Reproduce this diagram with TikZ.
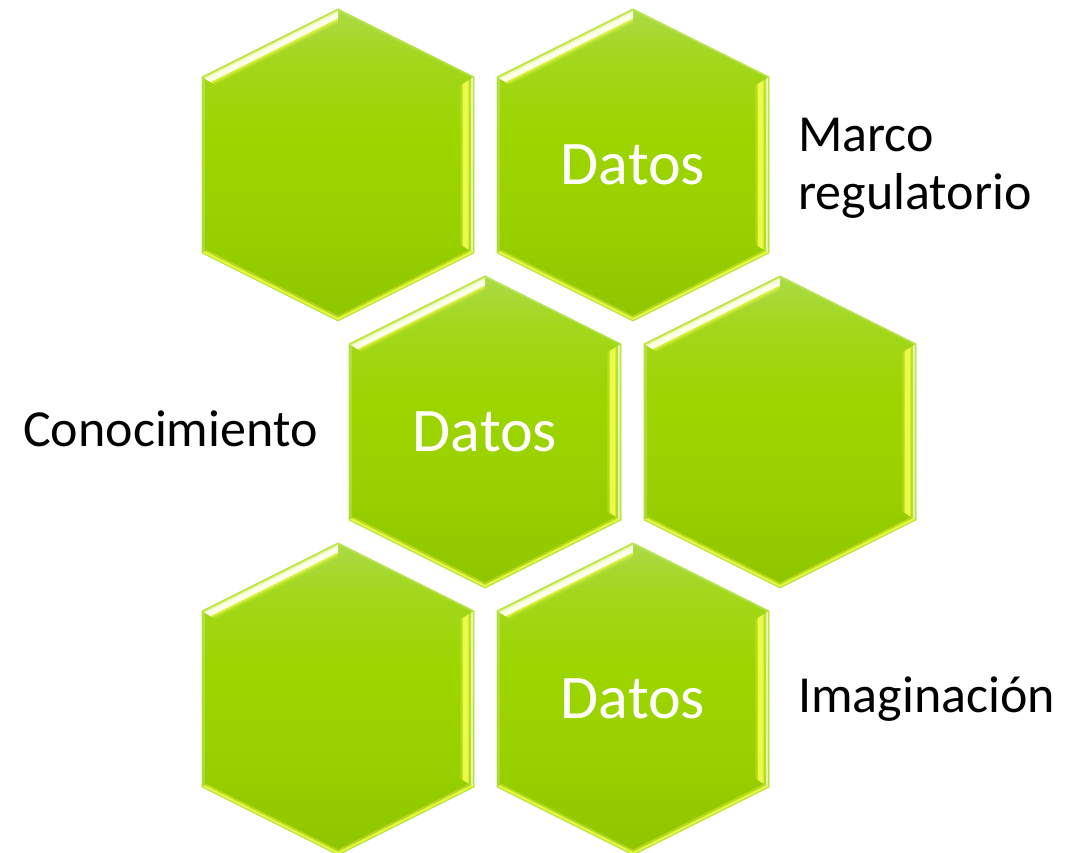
\documentclass[tikz,border=0pt]{standalone}
\usepackage{fontspec}
\setmainfont{Carlito}
\usetikzlibrary{calc}
\definecolor{hexTop}{RGB}{172,218,70}
\definecolor{hexUp}{RGB}{163,215,28}
\definecolor{hexMid}{RGB}{157,213,0}
\definecolor{hexLow}{RGB}{153,208,0}
\definecolor{hexBot}{RGB}{142,197,0}
\definecolor{hexRim}{RGB}{182,230,72}
\definecolor{glowY}{RGB}{245,255,80}
\definecolor{glowW}{RGB}{255,255,235}
\pgfdeclareverticalshading{hexgrad}{100bp}{color(0bp)=(hexBot); color(25bp)=(hexBot); color(40bp)=(hexLow); color(55bp)=(hexMid); color(67bp)=(hexUp); color(75bp)=(hexTop); color(100bp)=(hexTop)}
% bevel bands: #1 inner offset start, #2 end, #3 fill options
\newcommand{\bandTL}[3]{\fill[#3] ({-(136-#1)},{88-0.618*#1}) -- (0,{156-1.118*#1}) -- (0,{156-1.118*#2}) -- ({-(136-#2)},{88-0.618*#2}) -- cycle;}
\newcommand{\bandTR}[3]{\fill[#3] (0,{156-1.118*#1}) -- ({136-#1},{88-0.618*#1}) -- ({136-#2},{88-0.618*#2}) -- (0,{156-1.118*#2}) -- cycle;}
\newcommand{\bandR}[3]{\fill[#3] ({136-#1},{88-0.618*#1}) -- ({136-#1},{-88+0.618*#1}) -- ({136-#2},{-88+0.618*#2}) -- ({136-#2},{88-0.618*#2}) -- cycle;}
\newcommand{\bandBR}[3]{\fill[#3] ({136-#1},{-88+0.618*#1}) -- (0,{-156+1.118*#1}) -- (0,{-156+1.118*#2}) -- ({136-#2},{-88+0.618*#2}) -- cycle;}
\newcommand{\bandBL}[3]{\fill[#3] (0,{-156+1.118*#1}) -- ({-136+#1},{-88+0.618*#1}) -- ({-136+#2},{-88+0.618*#2}) -- (0,{-156+1.118*#2}) -- cycle;}
\newcommand{\bandL}[3]{\fill[#3] ({-136+#1},{-88+0.618*#1}) -- ({-136+#1},{88-0.618*#1}) -- ({-136+#2},{88-0.618*#2}) -- ({-136+#2},{-88+0.618*#2}) -- cycle;}
\tikzset{
  hexshade/.style={shading=hexgrad},
  hexrim/.style={draw=hexRim, line width=0.9pt, line join=miter},
  datos/.style={text=white, font=\fontsize{62}{74}\selectfont, inner sep=0pt},
  lbl/.style={text=black, font=\fontsize{52}{58}\selectfont, inner sep=0pt, align=left},
  pics/hexcell/.style={code={
    \coordinate (-c) at (0,0);
    \shade[hexshade] (0,156) -- (-136,88) -- (-136,-88) -- (0,-156) -- (136,-88) -- (136,88) -- cycle;
    % upper-left highlight
    \bandTL{0}{1.5}{glowY,fill opacity=.45}
    \bandTL{1.5}{3}{glowW,fill opacity=.8}
    \bandTL{3}{8.5}{glowW,fill opacity=.98}
    \bandTL{8.5}{10}{glowY,fill opacity=.65}
    \bandTL{10}{11.5}{glowY,fill opacity=.35}
    \bandTL{11.5}{13}{glowY,fill opacity=.12}
    % upper-right
    \bandTR{0}{1.5}{white,fill opacity=.15}
    % right edge
    \bandR{0}{1}{glowY,fill opacity=.35}
    \bandR{1}{3.2}{glowW,fill opacity=.75}
    \bandR{3.2}{5.5}{glowY,fill opacity=.3}
    \bandR{5.5}{11}{glowY,fill opacity=.9}
    \bandR{11}{12.5}{glowY,fill opacity=.45}
    \bandR{12.5}{14}{glowY,fill opacity=.15}
    % bottom edges
    \bandBR{0.5}{3}{glowY,fill opacity=.85}
    \bandBR{3}{5}{glowY,fill opacity=.3}
    \bandBL{0.5}{3}{glowY,fill opacity=.85}
    \bandBL{3}{5}{glowY,fill opacity=.3}
    % left edge
    \bandL{0}{3}{white,fill opacity=.2}
    \draw[hexrim] (0,156) -- (-136,88) -- (-136,-88) -- (0,-156) -- (136,-88) -- (136,88) -- cycle;
  }}
}
\begin{document}
\begin{tikzpicture}[x=1pt,y=1pt]
\useasboundingbox (0,0) rectangle (1089,853);
\fill[white] (0,0) rectangle (1089,853);
% hexagons (centres in image px, y flipped)
\pic (h1) at (338,688) {hexcell};
\pic (h2) at (633,688) {hexcell};
\pic (h3) at (485,421) {hexcell};
\pic (h4) at (780,421) {hexcell};
\pic (h5) at (338,154) {hexcell};
\pic (h6) at (633,154) {hexcell};
% texts inside
\node[datos] (d2) at (h2-c) {Datos};
\node[datos] (d3) at (h3-c) {Datos};
\node[datos] (d6) at (h6-c) {Datos};
% labels
\node[lbl, anchor=base west] (lblMarco) at (798,643) {Marco\\regulatorio};
\node[lbl, anchor=base west] (lblCono) at (23,406) {Conocimiento};
\node[lbl, anchor=base west] (lblImag) at (798,140) {Imaginación};
\end{tikzpicture}
\end{document}
